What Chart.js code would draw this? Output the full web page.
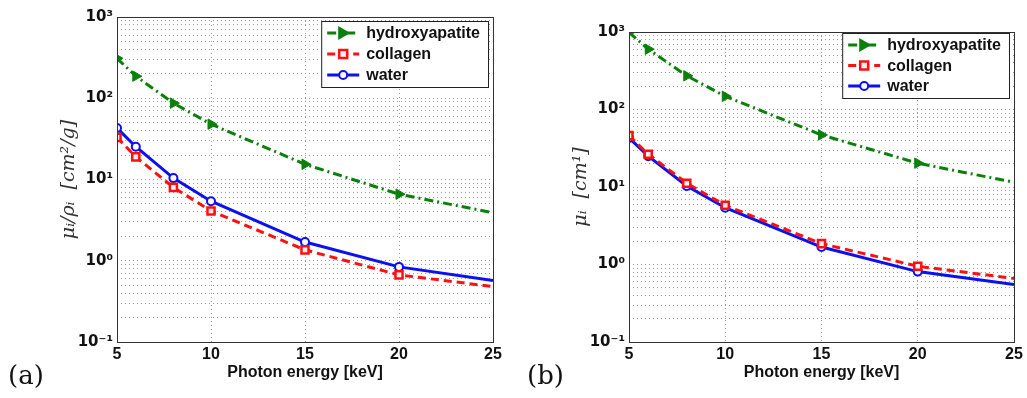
<!DOCTYPE html>
<html>
<head>
<meta charset="utf-8">
<script src="https://cdn.jsdelivr.net/npm/chart.js@4.4.1/dist/chart.umd.min.js"></script>
<style>
  body { margin: 0; background: #fff; width: 1027px; height: 398px; position: relative; overflow: hidden; }
  .panel { position: absolute; top: 0; width: 515px; height: 398px; }
  .tag { position: absolute; top: 360px; font-family: "DejaVu Serif", "Liberation Serif", serif; font-size: 26px; color: #111; }
</style>
</head>
<body>
<div class="panel" style="left:0"><canvas id="chartA" width="515" height="398"></canvas></div>
<div class="panel" style="left:512px"><canvas id="chartB" width="515" height="398"></canvas></div>
<div class="tag" style="left:8px">(a)</div>
<div class="tag" style="left:527px">(b)</div>
<script>
// energia del fotón [keV]
const energia = [5, 6, 8, 10, 15, 20, 25];

// (a) coeficiente de atenuación másico [cm^2/g]
const hidroxiA = [310, 187, 87, 48, 15.4, 6.6, 3.9];
const colagenoA = [33, 19, 8.0, 4.1, 1.36, 0.67, 0.48];
const aguaA = [43, 25.3, 10.4, 5.4, 1.7, 0.84, 0.57];

// (b) coeficiente de atenuación lineal [cm^-1]
const hidroxiB = [990, 600, 272, 148, 47, 20.3, 11.5];
const colagenoB = [46, 26.5, 11.2, 5.8, 1.86, 0.95, 0.66];
const aguaB = [43, 25, 10.3, 5.4, 1.68, 0.81, 0.55];

// etiquetas de los ticks del eje y
const ticksY = [0.1, 1, 10, 100, 1000];
const etiquetasY = ['10\u207B\u00B9', '10\u2070', '10\u00B9', '10\u00B2', '10\u00B3'];
const xTicks = [5, 10, 15, 20, 25];

const nombres = ['hydroxyapatite', 'collagen', 'water'];

const verde = '#0a800a';
const rojo = '#ff1010';
const azul = '#0a10f0';

function puntos(ys) {
    return energia.map((x, i) => ({ x: x, y: ys[i] }));
}
function radios(r) {
    return energia.map(x => x === 25 ? 0 : r);
}

function series(h, c, w) {
    return [{
        label: nombres[0],
        data: puntos(h),
        borderColor: verde,
        backgroundColor: verde,
        borderWidth: 3,
        borderDash: [9, 4, 2, 4],
        pointStyle: 'triangle',
        rotation: 90,
        pointRadius: radios(6),
        pointBorderWidth: 1,
        pointBackgroundColor: verde
    }, {
        label: nombres[1],
        data: puntos(c),
        borderColor: rojo,
        backgroundColor: '#fff',
        borderWidth: 3,
        borderDash: [8, 5],
        pointStyle: 'rect',
        pointRadius: radios(5),
        pointBorderWidth: 2.5,
        pointBackgroundColor: 'rgba(255,255,255,0.9)'
    }, {
        label: nombres[2],
        data: puntos(w),
        borderColor: azul,
        backgroundColor: '#fff',
        borderWidth: 3,
        pointStyle: 'circle',
        pointRadius: radios(4),
        pointBorderWidth: 2,
        pointBackgroundColor: '#fff'
    }];
}

// marco de los ejes y leyenda dentro del área
const marcoYLeyenda = {
    id: 'marcoYLeyenda',
    afterDatasetsDraw(chart, args, opts) {
        const ctx = chart.ctx;
        const a = chart.chartArea;
        ctx.save();
        ctx.strokeStyle = '#333';
        ctx.lineWidth = 1;
        ctx.setLineDash([]);
        ctx.strokeRect(a.left + 0.5, a.top + 0.5, a.right - a.left, a.bottom - a.top);

        // leyenda
        const ds = chart.data.datasets;
        ctx.font = 'bold 16px "Liberation Sans", Arial, sans-serif';
        let maxW = 0;
        ds.forEach(d => { maxW = Math.max(maxW, ctx.measureText(d.label).width); });
        const w = 45 + maxW + 8;
        const h = opts.alto;
        const x0 = a.right - opts.derecha - w;
        const y0 = a.top + opts.arriba;
        ctx.fillStyle = '#fff';
        ctx.fillRect(x0, y0, w, h);
        ctx.strokeStyle = '#222';
        ctx.strokeRect(x0 + 0.5, y0 + 0.5, w, h);
        ds.forEach((d, i) => {
            const yy = y0 + 12 + i * (h - 24) / 2;
            ctx.strokeStyle = d.borderColor;
            ctx.lineWidth = 3;
            ctx.setLineDash(d.borderDash || []);
            ctx.beginPath();
            ctx.moveTo(x0 + 6, yy);
            ctx.lineTo(x0 + 38, yy);
            ctx.stroke();
            ctx.setLineDash([]);
            ctx.fillStyle = d.pointBackgroundColor;
            ctx.strokeStyle = d.borderColor;
            ctx.lineWidth = d.pointBorderWidth;
            ctx.beginPath();
            if (d.pointStyle === 'triangle') {
                ctx.fillStyle = d.borderColor;
                ctx.moveTo(x0 + 29, yy);
                ctx.lineTo(x0 + 17, yy - 7);
                ctx.lineTo(x0 + 17, yy + 7);
                ctx.closePath();
                ctx.fill();
            } else if (d.pointStyle === 'rect') {
                ctx.rect(x0 + 18, yy - 4, 8, 8);
                ctx.fill();
                ctx.stroke();
            } else {
                ctx.arc(x0 + 22, yy, 4, 0, Math.PI * 2);
                ctx.fill();
                ctx.stroke();
            }
            ctx.fillStyle = '#111';
            ctx.textBaseline = 'middle';
            ctx.textAlign = 'left';
            ctx.fillText(d.label, x0 + 45, yy + 1);
        });
        ctx.restore();
    }
};

function crearGrafico(id, datos, tituloY, cfg) {
    new Chart(document.getElementById(id).getContext('2d'), {
        type: 'line',
        data: { datasets: datos },
        plugins: [marcoYLeyenda],
        options: {
            responsive: false,
            animation: false,
            layout: { padding: cfg.padding },
            plugins: {
                legend: { display: false },
                tooltip: { enabled: false },
                marcoYLeyenda: cfg.leyenda
            },
            scales: {
                x: {
                    type: 'linear',
                    min: 5,
                    max: 25,
                    afterBuildTicks: s => { s.ticks = xTicks.map(v => ({ value: v })); },
                    afterFit: s => { s.height = 42; },
                    ticks: {
                        color: '#111',
                        padding: 3,
                        maxRotation: 0,
                        font: { family: '"Liberation Sans", Arial, sans-serif', size: 16, weight: 'bold' }
                    },
                    grid: { color: '#9a9a9a', lineWidth: 1, drawTicks: false },
                    border: { display: false, dash: [1, 3] },
                    title: {
                        display: true,
                        text: 'Photon energy [keV]',
                        color: '#111',
                        padding: { top: 0, bottom: 2 },
                        font: { family: '"Liberation Sans", Arial, sans-serif', size: 16, weight: 'bold' }
                    }
                },
                y: {
                    type: 'logarithmic',
                    min: 0.1,
                    max: 1000,
                    afterBuildTicks: s => {
                        const t = [];
                        for (let e = -1; e <= 2; e++) {
                            for (let m = 1; m <= 9; m++) t.push({ value: m * Math.pow(10, e) });
                        }
                        t.push({ value: 1000 });
                        s.ticks = t;
                    },
                    afterFit: s => { s.width = cfg.anchoY; },
                    ticks: {
                        autoSkip: false,
                        color: '#111',
                        padding: 4,
                        font: { family: '"DejaVu Sans", "Liberation Sans", Arial, sans-serif', size: 15, weight: 'bold' },
                        callback: v => {
                            const k = ticksY.findIndex(t => Math.abs(t - v) < t * 1e-6);
                            return k >= 0 ? etiquetasY[k] : '';
                        }
                    },
                    grid: { color: '#9a9a9a', lineWidth: 1, drawTicks: false },
                    border: { display: false, dash: [1, 3] },
                    title: {
                        display: true,
                        text: tituloY,
                        color: '#333',
                        padding: { top: 4, bottom: 4 },
                        font: { family: '"DejaVu Serif", "Liberation Serif", serif', size: 19, style: 'italic' }
                    }
                }
            }
        }
    });
}

crearGrafico('chartA', series(hidroxiA, colagenoA, aguaA), '\u03BC\u1D62/\u03C1\u1D62  [cm\u00B2/g]', {
    padding: { left: 54, right: 22, top: 17, bottom: 14 },
    anchoY: 63,
    leyenda: { derecha: 5, arriba: 4, alto: 66 }
});

crearGrafico('chartB', series(hidroxiB, colagenoB, aguaB), '\u03BC\u1D62  [cm\u00B9]', {
    padding: { left: 54, right: 13, top: 32, bottom: 14 },
    anchoY: 63,
    leyenda: { derecha: 5, arriba: 1, alto: 65 }
});
</script>
</body>
</html>
